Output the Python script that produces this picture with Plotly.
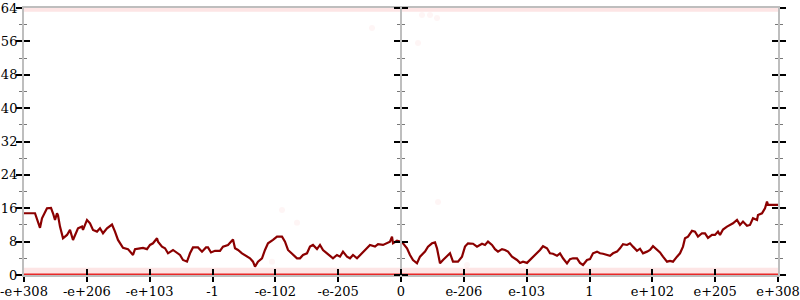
import plotly.graph_objects as go

# x positions are histogram bin indices (0..754), y are counts
tick_labels = ["-e+308", "-e+206", "-e+103", "-1", "-e-102", "-e-205", "0",
               "e-206", "e-103", "1", "e+102", "e+205", "e+308"]
n_bins = 754

bins = [0, 11, 16, 18, 23, 27, 29, 31, 33, 34,
        36, 39, 43, 46, 49, 54, 58, 59, 63, 66,
        69, 73, 76, 79, 83, 88, 91, 94, 99, 104,
        109, 111, 116, 119, 123, 126, 129, 133, 134, 138,
        141, 144, 149, 153, 156, 159, 163, 166, 169, 174,
        178, 182, 184, 187, 191, 196, 199, 204, 208, 209,
        211, 214, 218, 221, 226, 229, 231, 234, 238, 241,
        244, 249, 253, 258, 261, 264, 268, 273, 276, 279,
        283, 286, 289, 293, 296, 299, 303, 306, 309, 313,
        316, 319, 323, 326, 329, 333, 336, 339, 343, 346,
        351, 354, 359, 363, 366, 368, 369, 373, 376, 379,
        383, 386, 389, 393, 396, 401, 404, 408, 411, 413,
        414, 416, 419, 423, 426, 429, 434, 438, 441, 444,
        449, 453, 458, 461, 464, 468, 471, 474, 478, 481,
        484, 488, 493, 496, 499, 503, 506, 509, 513, 516,
        519, 523, 526, 529, 533, 536, 539, 543, 546, 549,
        553, 556, 559, 563, 566, 569, 573, 576, 579, 583,
        586, 589, 593, 596, 599, 603, 606, 609, 613, 616,
        619, 623, 626, 629, 633, 636, 639, 643, 646, 649,
        653, 656, 659, 661, 664, 668, 671, 674, 678, 681,
        684, 688, 691, 694, 696, 699, 703, 706, 709, 713,
        716, 719, 723, 726, 729, 733, 734, 738, 741, 743,
        744, 748, 754]
counts = [14.8, 14.8, 11.3, 13.6, 16.0, 16.1, 14.8, 13.2, 14.8, 14.3,
          11.6, 8.8, 9.6, 10.8, 8.4, 11.2, 11.6, 10.8, 13.2, 12.4,
          10.8, 10.4, 11.2, 10.0, 11.2, 12.1, 10.4, 8.4, 6.5, 6.2,
          4.8, 6.2, 6.4, 6.5, 6.2, 7.2, 7.6, 8.8, 8.0, 6.8,
          6.4, 5.2, 6.0, 5.2, 4.8, 3.6, 3.2, 5.2, 6.6, 6.6,
          5.6, 6.6, 6.6, 5.4, 5.8, 5.8, 6.8, 7.2, 8.4, 8.5,
          6.4, 6.0, 5.2, 4.8, 4.0, 3.2, 2.0, 3.2, 4.0, 6.0,
          7.6, 8.4, 9.2, 9.2, 8.0, 6.0, 5.2, 4.0, 4.0, 4.8,
          5.2, 6.8, 7.2, 6.2, 7.2, 6.0, 5.2, 4.5, 4.0, 4.8,
          4.4, 5.6, 4.4, 4.0, 4.8, 4.0, 4.8, 5.6, 6.4, 7.2,
          6.8, 7.4, 7.2, 7.6, 8.0, 9.2, 7.6, 8.2, 8.0, 7.6,
          6.4, 4.8, 3.6, 2.8, 4.4, 5.6, 6.8, 7.6, 7.8, 6.4,
          4.8, 2.8, 3.6, 4.4, 5.2, 3.2, 3.2, 4.4, 6.8, 7.6,
          7.5, 6.8, 7.5, 7.2, 8.0, 7.2, 6.2, 5.6, 6.2, 6.0,
          5.6, 4.4, 3.6, 2.9, 3.2, 2.9, 3.6, 4.4, 5.2, 6.0,
          6.9, 6.4, 5.2, 5.1, 4.6, 5.2, 4.0, 2.8, 3.8, 4.0,
          4.0, 2.9, 2.4, 3.6, 3.8, 5.2, 5.6, 5.2, 5.1, 4.8,
          4.6, 5.2, 5.6, 6.4, 7.4, 7.2, 7.6, 6.8, 5.8, 6.3,
          5.2, 5.6, 6.0, 6.9, 6.0, 5.4, 4.4, 3.2, 3.4, 3.2,
          4.4, 5.2, 6.8, 8.8, 9.2, 10.6, 10.4, 9.2, 10.0, 10.0,
          8.9, 9.6, 9.6, 10.4, 9.6, 10.9, 11.6, 12.0, 12.4, 13.2,
          12.0, 12.8, 11.8, 12.0, 13.6, 13.2, 14.4, 14.8, 16.0, 17.6,
          16.8, 16.8, 16.8]

# sparse individual samples (faint dots)
dot_bins = [258, 273, 248, 348, 394, 398, 406, 413, 414, 443]
dot_vals = [15.6, 12.5, 3.2, 59.2, 55.6, 62.3, 62.3, 61.6, 17.5, 2.4]

# dense sample bands at the extremes
band_low = [0.9, 0.9]
band_high = [63.6, 63.6]
zero_vals = [0, 0]
band_bins = [0, n_bins]

y_max = 64
tickvals = [i * n_bins / 12 for i in range(13)]

FONT = "DejaVu Serif"
AXIS_GRAY = "rgb(190,190,190)"

fig = go.Figure()
fig.add_trace(go.Scatter(x=band_bins, y=band_low, mode="lines",
                         line=dict(color="rgba(240,70,70,0.14)", width=7),
                         hoverinfo="skip", showlegend=False, cliponaxis=False))
fig.add_trace(go.Scatter(x=band_bins, y=band_high, mode="lines",
                         line=dict(color="rgba(240,70,70,0.14)", width=4),
                         hoverinfo="skip", showlegend=False, cliponaxis=False))
fig.add_trace(go.Scatter(x=dot_bins, y=dot_vals, mode="markers",
                         marker=dict(color="rgba(240,90,90,0.06)", size=6),
                         hoverinfo="skip", showlegend=False))
fig.add_trace(go.Scatter(x=band_bins, y=zero_vals, mode="lines",
                         line=dict(color="rgb(232,40,40)", width=3),
                         hoverinfo="skip", showlegend=False, cliponaxis=False))
fig.add_trace(go.Scatter(x=bins, y=counts, mode="lines",
                         line=dict(color="rgb(139,0,0)", width=2.2),
                         showlegend=False))

# dummy traces so overlay axes are drawn
for xa, ya in [("x2", "y"), ("x", "y2"), ("x", "y3"), ("x", "y4"), ("x", "y5"), ("x", "y6")]:
    fig.add_trace(go.Scatter(x=[None], y=[None], xaxis=xa, yaxis=ya,
                             showlegend=False, hoverinfo="skip"))

def ycommon(**kw):
    d = dict(range=[0, y_max], dtick=8, tick0=0, showgrid=False, zeroline=False,
             tickcolor="black", tickwidth=1.5, ticklen=6, automargin=False,
             minor=dict(dtick=4, tick0=0, ticklen=3, tickcolor="rgb(120,120,120)",
                        tickwidth=1, showgrid=False),
             fixedrange=True)
    d.update(kw)
    return d

fig.update_layout(
    width=800, height=300,
    margin=dict(l=24, r=22, t=8, b=25),
    paper_bgcolor="white", plot_bgcolor="white",
    xaxis=dict(range=[0, n_bins], tickvals=tickvals, ticktext=tick_labels,
               ticks="outside", ticklen=5, tickwidth=1.5, tickcolor="black",
               showline=True, linecolor=AXIS_GRAY, linewidth=2, mirror=True,
               showgrid=False, zeroline=False, automargin=False,
               ticklabelstandoff=-2,
               tickfont=dict(family=FONT, size=13, color="black")),
    xaxis2=dict(range=[0, n_bins], tickvals=tickvals, overlaying="x",
                ticks="inside", ticklen=6, tickwidth=1.5, tickcolor="black",
                showticklabels=False, showline=False, showgrid=False, zeroline=False,
                automargin=False),
    yaxis=ycommon(ticks="outside", showline=True, linecolor=AXIS_GRAY, linewidth=2,
                  tickfont=dict(family=FONT, size=13, color="black"),
                  ticklabelstandoff=-4, minor_ticks="outside"),
    yaxis2=ycommon(overlaying="y", side="left", ticks="inside", showticklabels=False,
                   minor_ticks="inside"),
    yaxis3=ycommon(overlaying="y", side="right", ticks="outside", showticklabels=False,
                   showline=True, linecolor=AXIS_GRAY, linewidth=2, minor_ticks="outside"),
    yaxis4=ycommon(overlaying="y", side="right", ticks="inside", showticklabels=False,
                   minor_ticks="inside"),
    yaxis5=ycommon(overlaying="y", anchor="free", position=0.5, side="left",
                   ticks="outside", showticklabels=False, showline=True,
                   linecolor=AXIS_GRAY, linewidth=2, minor_ticks="outside"),
    yaxis6=ycommon(overlaying="y", anchor="free", position=0.5, side="right",
                   ticks="outside", showticklabels=False, minor_ticks="outside"),
)

fig.write_html("out.html")
